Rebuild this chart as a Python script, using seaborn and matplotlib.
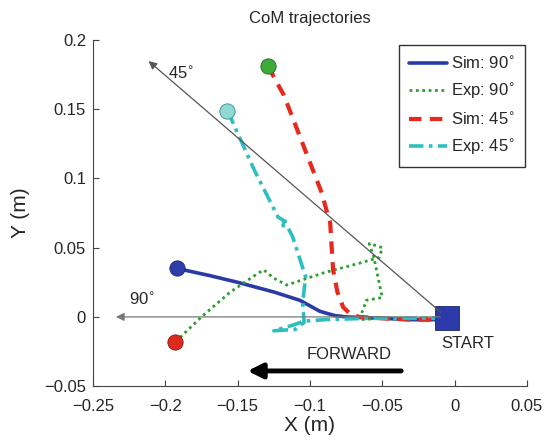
import matplotlib
matplotlib.use("Agg")
import matplotlib.pyplot as plt
import seaborn as sns
import numpy as np
import pandas as pd

sns.set_style("ticks")
plt.rcParams['font.family'] = ['Liberation Sans', 'DejaVu Sans']

# Sim 90 (blue solid)
sim90_x = [-0.192, -0.17, -0.15, -0.125, -0.107, -0.093, -0.083, -0.075, -0.05, -0.03, -0.013]
sim90_y = [0.035, 0.030, 0.025, 0.018, 0.012, 0.004, 0.001, 0.0, -0.001, -0.002, -0.002]

# Exp 90 (green dotted)
exp90_x = [-0.193, -0.175, -0.155, -0.138, -0.132, -0.125, -0.116, -0.09, -0.065, -0.052, -0.05,
           -0.059, -0.056, -0.054, -0.05, -0.061, -0.063, -0.066, -0.05, -0.03, -0.012]
exp90_y = [-0.018, 0.0, 0.018, 0.030, 0.034, 0.028, 0.023, 0.032, 0.039, 0.043, 0.050,
           0.053, 0.044, 0.034, 0.014, 0.012, 0.006, -0.002, -0.001, -0.001, -0.001]

# Sim 45 (red dashed)
sim45_x = [-0.129, -0.118, -0.105, -0.092, -0.088, -0.086, -0.084, -0.081, -0.077, -0.072, -0.066, -0.05, -0.03, -0.012]
sim45_y = [0.181, 0.16, 0.125, 0.09, 0.075, 0.068, 0.034, 0.018, 0.007, 0.002, 0.0, -0.001, -0.002, -0.002]

# Exp 45 (cyan dash-dot)
exp45_x = [-0.157, -0.151, -0.138, -0.122, -0.117, -0.121, -0.116, -0.112, -0.103, -0.105, -0.104,
           -0.11, -0.125, -0.112, -0.104, -0.09, -0.06, -0.03, -0.012]
exp45_y = [0.149, 0.135, 0.105, 0.072, 0.069, 0.066, 0.066, 0.058, 0.029, 0.010, -0.004,
           -0.009, -0.010, -0.006, -0.003, -0.002, -0.001, -0.001, -0.001]

start_x, start_y = [-0.005], [-0.001]
dir45_end = (-0.213, 0.186)
dir90_end = (-0.236, 0.0)
fwd_from, fwd_to = (-0.035, -0.039), (-0.145, -0.039)
x_ticks = [-0.25, -0.2, -0.15, -0.1, -0.05, 0, 0.05]
y_ticks = [-0.05, 0, 0.05, 0.1, 0.15, 0.2]
x_tick_labels = ['\u22120.25', '\u22120.2', '\u22120.15', '\u22120.1', '\u22120.05', '0', '0.05']
y_tick_labels = ['\u22120.05', '0', '0.05', '0.1', '0.15', '0.2']

fig = plt.figure(figsize=(5.5, 4.48), dpi=100)
ax = fig.add_axes([0.169, 0.138, 0.789, 0.773])

# reference direction lines
ax.annotate('', xy=dir45_end, xytext=(-0.008, 0.002),
            arrowprops=dict(arrowstyle='-|>', color='#555555', lw=0.9, mutation_scale=12))
ax.annotate('', xy=dir90_end, xytext=(-0.008, 0.0),
            arrowprops=dict(arrowstyle='-|>', color='#777777', lw=0.9, mutation_scale=12))
ax.text(-0.198, 0.176, '45$^{\\circ}$', fontsize=12, ha='left', va='center')
ax.text(-0.225, 0.013, '90$^{\\circ}$', fontsize=12, ha='left', va='center')

df = lambda x, y: pd.DataFrame({'x': x, 'y': y})
common = dict(x='x', y='y', sort=False, estimator=None, errorbar=None, ax=ax)
sns.lineplot(data=df(sim90_x, sim90_y), color='#2A3BA6', lw=2.6,
             label='Sim: 90$^{\\circ}$', **common)
sns.lineplot(data=df(exp90_x, exp90_y), color='#2E9E2E', lw=2.0, linestyle=(0, (1, 1.3)),
             label='Exp: 90$^{\\circ}$', **common)
sns.lineplot(data=df(sim45_x, sim45_y), color='#E8281C', lw=3.0, linestyle=(0, (3, 2)),
             label='Sim: 45$^{\\circ}$', **common)
sns.lineplot(data=df(exp45_x, exp45_y), color='#2BBFC2', lw=2.6, linestyle=(0, (4, 1.5, 1, 1.5)),
             label='Exp: 45$^{\\circ}$', **common)

# start / end circles
ax.plot(sim90_x[0], sim90_y[0], 'o', ms=11, color='#2E3DA8', mec='#1a2570', mew=0.6)
ax.plot(sim45_x[0], sim45_y[0], 'o', ms=11, color='#3DAA3A', mec='#1f6b1f', mew=0.6)
ax.plot(exp45_x[0], exp45_y[0], 'o', ms=11, color='#8ED8D6', mec='#3a8d8b', mew=0.6)
ax.plot(exp90_x[0], exp90_y[0], 'o', ms=11, color='#DE2A1C', mec='#8a1a10', mew=0.6)
ax.plot(start_x, start_y, 's', ms=17, color='#2B3AA8', mec='#1a2570', mew=0.6)
ax.text(-0.009, -0.019, 'START', fontsize=12, ha='left', va='center')

# forward arrow
ax.annotate('', xy=fwd_to, xytext=fwd_from,
            arrowprops=dict(arrowstyle='-|>', color='black', lw=3.5, mutation_scale=22))
ax.text(-0.073, -0.027, 'FORWARD', fontsize=12, ha='center', va='center')

ax.set_xlim(-0.25, 0.05)
ax.set_ylim(-0.05, 0.2)
ax.set_xticks(x_ticks)
ax.set_xticklabels(x_tick_labels)
ax.set_yticks(y_ticks)
ax.set_yticklabels(y_tick_labels)
ax.tick_params(direction='in', labelsize=12, length=4, color='#444444')
ax.tick_params(axis='x', pad=9)
ax.tick_params(axis='y', pad=5)
sns.despine(ax=ax)
for s in ['left', 'bottom']:
    ax.spines[s].set_color('#444444')
ax.set_xlabel('X (m)', fontsize=15, labelpad=2)
ax.set_ylabel('Y (m)', fontsize=15, labelpad=10)
ax.set_title('CoM trajectories', fontsize=12, pad=12)

leg = ax.legend(loc='upper right', bbox_to_anchor=(0.995, 0.985), fontsize=12, frameon=True,
                fancybox=False, edgecolor='black', handlelength=2.3, handletextpad=0.2,
                borderpad=0.6, labelspacing=0.55, borderaxespad=0)
leg.get_frame().set_linewidth(1.0)

fig.savefig('out.png', dpi=100)
